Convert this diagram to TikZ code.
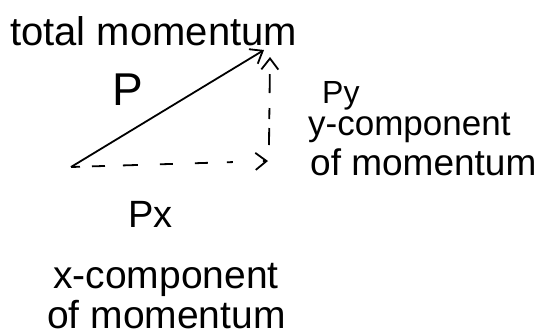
\documentclass[tikz,border=0pt]{standalone}
\usepackage{fontspec}
\setmainfont{Liberation Sans}
\usetikzlibrary{arrows.meta}
\newcommand{\fs}[1]{\fontsize{#1}{#1}\selectfont}
\tikzset{
  lbl/.style={inner sep=0pt, anchor=base west, text=black},
  vec/.style={line width=1.8pt, -{Straight Barb[length=11pt,width=17pt,line width=1.8pt]}},
}
\begin{document}
\begin{tikzpicture}[x=1pt,y=-1pt]
\useasboundingbox[fill=white] (0,0) rectangle (538,335);
% points
\coordinate (O) at (71,167);
\coordinate (T) at (264,50);
\coordinate (XE) at (268,161);
\coordinate (YS) at (269,145);
\coordinate (YE) at (270,57);
% vectors
\draw[vec] (O) -- (T);
\draw[vec, dash pattern=on 9pt off 12pt on 13pt off 18pt on 15pt off 22pt on 13pt off 22pt on 13pt off 19pt on 6pt off 30pt] (O) -- (XE);
\draw[vec, dash pattern=on 17pt off 9pt on 11pt off 15pt on 19pt off 40pt] (YS) -- (YE);
% labels
\node[lbl, font=\fs{40}] (total) at (10,45) {total momentum};
\node[lbl, font=\fs{46}] (p) at (112,105) {P};
\node[lbl, font=\fs{32}] (py) at (322,103) {Py};
\node[lbl, font=\fs{35}] (ycomp) at (308,135) {y-component};
\node[lbl, font=\fs{37}] (yof) at (310,175) {of momentum};
\node[lbl, font=\fs{38}] (px) at (128,227) {Px};
\node[lbl, font=\fs{39}] (xcomp) at (53,288) {x-component};
\node[lbl, font=\fs{39}] (xof) at (47,328) {of momentum};
\end{tikzpicture}
\end{document}
